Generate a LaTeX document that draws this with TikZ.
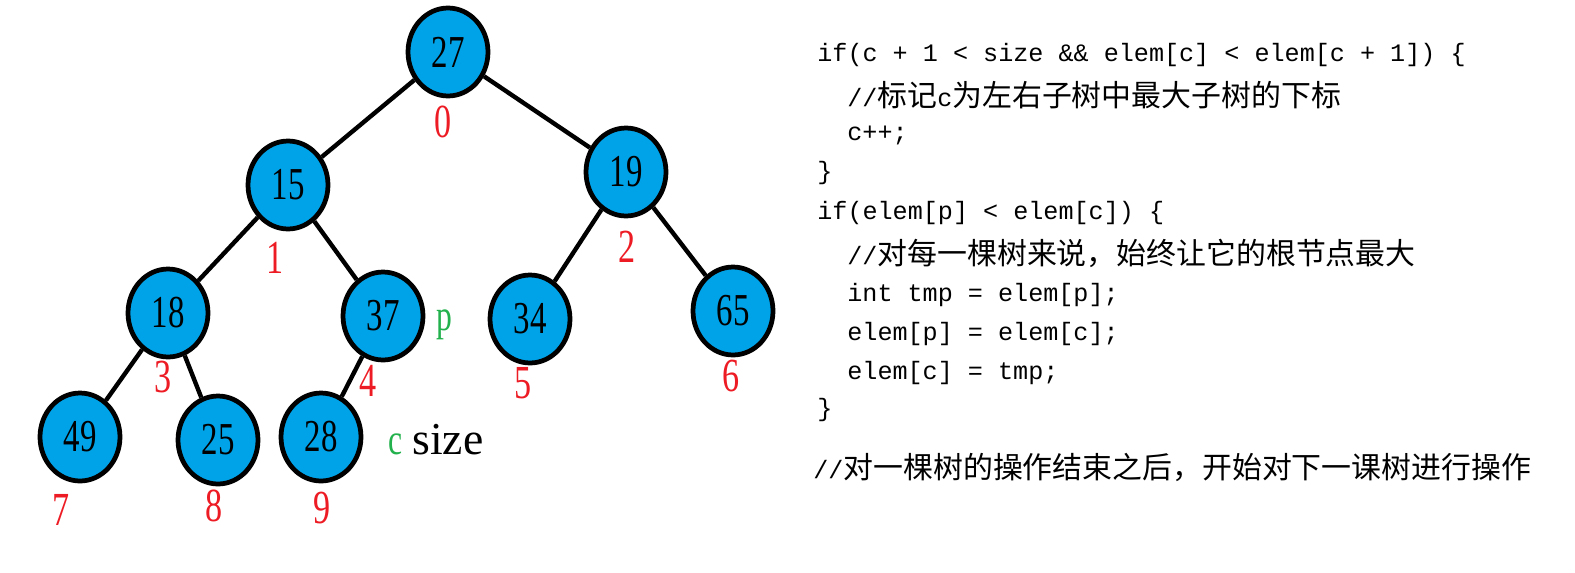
\documentclass[tikz,border=0pt]{standalone}
\usepackage{fontspec}
\usetikzlibrary{shapes.geometric}
\newfontfamily\codefont{Liberation Mono}
\newfontfamily\cjkfont[Scale=1.19]{Noto Sans CJK SC}
\newfontfamily\numfont[FakeStretch=0.72]{Liberation Serif}
\newfontfamily\wordfont{Liberation Serif}
\newcommand{\zh}[1]{{\cjkfont #1}}
\definecolor{heapblue}{RGB}{0,162,232}
\definecolor{idxred}{RGB}{237,28,36}
\definecolor{ptrgreen}{RGB}{34,177,76}

\begin{document}
\begin{tikzpicture}[x=0.02cm,y=-0.02cm,
    heap/.style={ellipse,draw=black,fill=heapblue,line width=2.7pt,
      minimum width=1.6cm,minimum height=1.76cm,inner sep=0pt,
      font=\numfont\fontsize{26}{26}\selectfont},
    idx/.style={text=idxred,inner sep=0pt,font=\numfont\fontsize{27}{27}\selectfont},
    ptr/.style={text=ptrgreen,inner sep=0pt,font=\numfont\fontsize{25}{25}\selectfont},
    code/.style={anchor=west,inner sep=0pt,font=\codefont\fontsize{14.3}{16}\selectfont},
    edge/.style={line width=2.5pt}]
    \useasboundingbox (0,0) rectangle (1575,572);
    % heap nodes
    \node[heap] (n0) at (448,52) {27};
    \node[heap] (n1) at (288,185) {15};
    \node[heap] (n2) at (626,172) {19};
    \node[heap] (n3) at (168,313) {18};
    \node[heap] (n4) at (383,316) {37};
    \node[heap] (n5) at (530,319) {34};
    \node[heap] (n6) at (733,311) {65};
    \node[heap] (n7) at (80,437) {49};
    \node[heap] (n8) at (218,440) {25};
    \node[heap] (n9) at (321,437) {28};
    % tree edges
    \draw[edge] (n0) -- (n1);
    \draw[edge] (n0) -- (n2);
    \draw[edge] (n1) -- (n3);
    \draw[edge] (n1) -- (n4);
    \draw[edge] (n2) -- (n5);
    \draw[edge] (n2) -- (n6);
    \draw[edge] (n3) -- (n7);
    \draw[edge] (n3) -- (n8);
    \draw[edge] (n4) -- (n9);
    % array indices
    \node[idx] (i0) at (443,122) {0};
    \node[idx] (i1) at (275,258) {1};
    \node[idx] (i2) at (627,247) {2};
    \node[idx] (i3) at (163,377) {3};
    \node[idx] (i4) at (368,381) {4};
    \node[idx] (i5) at (523,383) {5};
    \node[idx] (i6) at (731,376) {6};
    \node[idx] (i7) at (61,510) {7};
    \node[idx] (i8) at (214,506) {8};
    \node[idx] (i9) at (322,508) {9};
    % pointers
    \node[ptr] (p) at (444,325) {p};
    \node[ptr] (c) at (396,444) {c};
    \node[inner sep=0pt,font=\wordfont\fontsize{26}{26}\selectfont,anchor=west] (size) at (412,440) {size};
    % code
    \node[code] (l1) at (817,55) {if(c + 1 < size \&\& elem[c] < elem[c + 1]) \{};
    \node[code] (l2) at (847,95) {//\zh{标记}c\zh{为左右子树中最大子树的下标}};
    \node[code] (l3) at (847,135) {c++;};
    \node[code] (l4) at (817,173) {\}};
    \node[code] (l5) at (817,213) {if(elem[p] < elem[c]) \{};
    \node[code] (l6) at (847,253) {//\zh{对每一棵树来说，始终让它的根节点最大}};
    \node[code] (l7) at (847,295) {int tmp = elem[p];};
    \node[code] (l8) at (847,334) {elem[p] = elem[c];};
    \node[code] (l9) at (847,373) {elem[c] = tmp;};
    \node[code] (l10) at (817,410) {\}};
    \node[code] (l11) at (813,467) {//\zh{对一棵树的操作结束之后，开始对下一课树进行操作}};
\end{tikzpicture}
\end{document}
